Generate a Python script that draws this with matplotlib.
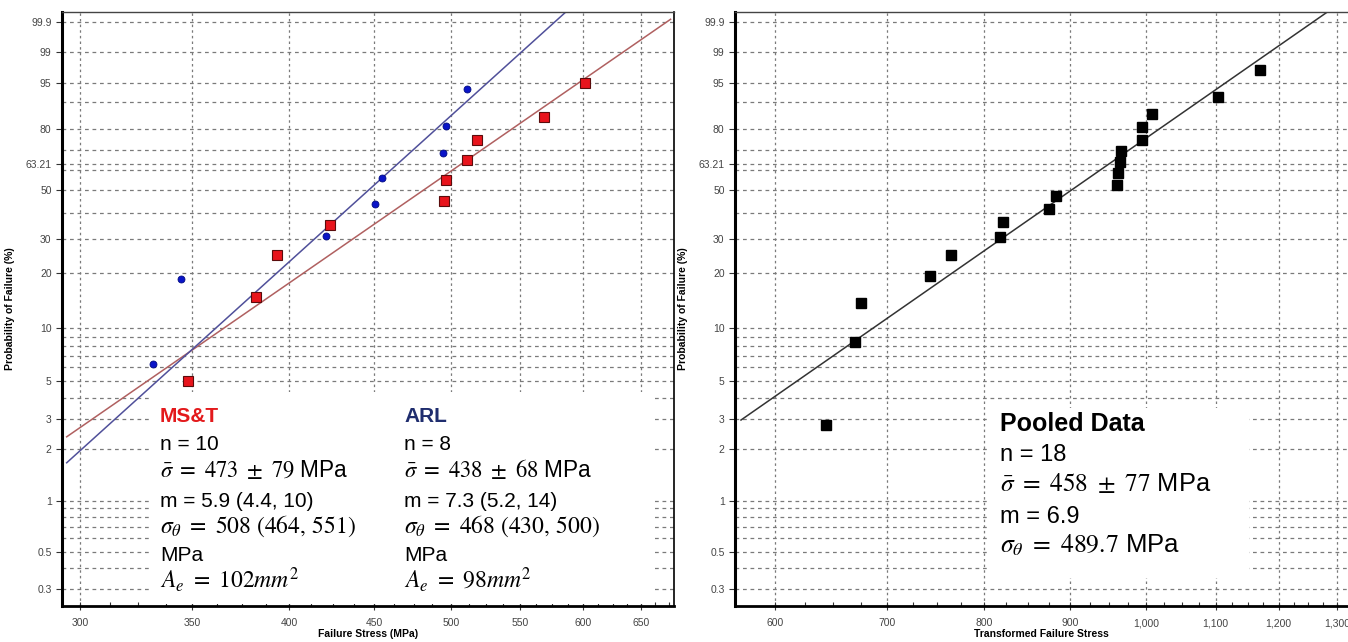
import numpy as np
import matplotlib
matplotlib.use("Agg")
import matplotlib.pyplot as plt
from matplotlib.ticker import FixedLocator, FuncFormatter, NullFormatter
from matplotlib.patches import Rectangle

plt.rcParams['font.family'] = ['Liberation Sans', 'DejaVu Sans']
plt.rcParams['mathtext.fontset'] = 'stix'

# ---------------- data ----------------
# MS&T specimens
mst_stress = [348.0, 382.5, 393.4, 423.3, 495.2, 496.6, 511.2, 518.3, 568.6, 601.5]
mst_prob = [5, 15, 25, 35, 45, 55, 65, 75, 85, 95]
# ARL specimens
arl_stress = [331.9, 344.6, 421.2, 450.3, 454.9, 494.3, 497.0, 511.0]
arl_prob = [6.25, 18.75, 31.25, 43.75, 56.25, 68.75, 81.25, 93.75]
# pooled (transformed) data
pooled_stress = [643.7, 669.7, 675.3, 743.0, 764.1, 817.5, 821.4, 874.7, 883.7,
                 960.3, 962.0, 964.3, 966.1, 994.0, 994.0, 1007.4, 1104.4, 1169.7]
pooled_prob = [2.78, 8.33, 13.89, 19.44, 25.0, 30.56, 36.11, 41.67, 47.22,
               52.78, 58.33, 63.89, 69.44, 75.0, 80.56, 86.11, 91.67, 97.22]

# fitted Weibull lines (end points)
mst_fit_stress = [294.5, 676.8]
mst_fit_prob = [2.372, 99.923]
arl_fit_stress = [294.5, 585.9]
arl_fit_prob = [1.670, 99.964]
pooled_fit_stress = [572.5, 1281.4]
pooled_fit_prob = [2.973, 99.961]

# axis ticks
prob_ticks = [0.3, 0.5, 1, 2, 3, 5, 10, 20, 30, 50, 63.21, 80, 95, 99, 99.9]
prob_grid_extra = [0.4, 0.6, 0.7, 0.8, 0.9, 4, 6, 7, 8, 9, 40, 60, 70, 90]
left_xticks = [300, 350, 400, 450, 500, 550, 600, 650]
right_xticks = [600, 700, 800, 900, 1000, 1100, 1200, 1300]


# Weibull probability scale
def weib_fwd(p):
    p = np.clip(np.asarray(p, dtype=float), 1e-9, 100 - 1e-9)
    return np.log(-np.log(1 - p / 100.0))


def weib_inv(w):
    return 100.0 * (1 - np.exp(-np.exp(np.asarray(w, dtype=float))))


def prob_label(v, pos):
    if v == int(v):
        return '%d' % v
    return ('%g' % v)


def setup_axes(ax, xlim, xticks, minor_step, xfmt):
    ax.set_xscale('log')
    ax.set_yscale('function', functions=(weib_fwd, weib_inv))
    ax.set_xlim(*xlim)
    ax.set_ylim(0.2381, 99.9636)

    ax.xaxis.set_major_locator(FixedLocator(xticks))
    minors = []
    for a in xticks:
        for k in (1, 2, 3):
            v = a + k * minor_step
            if xlim[0] < v < xlim[1]:
                minors.append(v)
    ax.xaxis.set_minor_locator(FixedLocator(minors))
    ax.xaxis.set_major_formatter(FuncFormatter(xfmt))
    ax.xaxis.set_minor_formatter(NullFormatter())

    ax.yaxis.set_major_locator(FixedLocator(prob_ticks))
    ax.yaxis.set_minor_locator(FixedLocator(prob_grid_extra))
    ax.yaxis.set_major_formatter(FuncFormatter(prob_label))
    ax.yaxis.set_minor_formatter(NullFormatter())

    ax.set_axisbelow(True)
    ax.grid(True, which='major', axis='x', color='#7a7a7a', lw=0.9, ls=(0, (2, 2.5)))
    ax.grid(True, which='both', axis='y', color='#7a7a7a', lw=0.9, ls=(0, (3, 3)))

    ax.tick_params(axis='both', which='major', labelsize=7.5, labelcolor='#444444',
                   color='#333333')
    ax.tick_params(axis='x', which='major', direction='inout', length=6, width=0.8, pad=6)
    ax.tick_params(axis='x', which='minor', direction='in', length=3, width=0.8,
                   color='#333333')
    ax.tick_params(axis='y', which='major', direction='out', length=4, width=0.8)
    ax.tick_params(axis='y', which='minor', length=0)

    ax.spines['left'].set_linewidth(2.2)
    ax.spines['bottom'].set_linewidth(2.0)
    ax.spines['top'].set_linewidth(1.0)
    ax.spines['top'].set_color('#444444')
    ax.spines['right'].set_linewidth(1.2)

    ax.set_ylabel('Probability of Failure (%)', fontsize=7.5, fontweight='bold')
    ax.yaxis.set_label_coords(-0.077, 0.5)


fig = plt.figure(figsize=(13.48, 6.42), dpi=100)
ax1 = fig.add_axes([62 / 1348, 36 / 642, 612 / 1348, 594 / 642])
ax2 = fig.add_axes([735 / 1348, 36 / 642, 613 / 1348, 594 / 642])

setup_axes(ax1, (292.6, 680.0), left_xticks, 12.5, lambda v, p: '%d' % v)
setup_axes(ax2, (567.8, 1320.0), right_xticks, 25, lambda v, p: '{:,.0f}'.format(v))
ax2.spines['right'].set_visible(False)

ax1.set_xlabel('Failure Stress (MPa)', fontsize=7.5, fontweight='bold')
ax1.xaxis.set_label_coords(0.5, -0.038)
ax2.set_xlabel('Transformed Failure Stress', fontsize=7.5, fontweight='bold')
ax2.xaxis.set_label_coords(0.5, -0.038)

# ---------------- left panel ----------------
ax1.plot(mst_fit_stress, mst_fit_prob, color='#b06060', lw=1.1, zorder=2)
ax1.plot(arl_fit_stress, arl_fit_prob, color='#50509a', lw=1.1, zorder=2)
ax1.plot(arl_stress, arl_prob, 'o', ms=5, color='#0a14c8', mec='#000a80', mew=0.6,
         zorder=3, clip_on=False)
ax1.plot(mst_stress, mst_prob, 's', ms=7, color='#e8141c', mec='#5a0c0c', mew=0.8,
         zorder=3, clip_on=False)

ax1.add_patch(Rectangle((0.144, 0.004), 0.822, 0.356, transform=ax1.transAxes,
                        facecolor='white', edgecolor='none', zorder=1))

rows = [0.3102, 0.2626, 0.2172, 0.1672, 0.1229, 0.0763, 0.0303]
sizes = [15, 15, 16.3, 15, 17, 15, 17]
mst_lines = ['MS&T', 'n = 10', r'$\bar{\sigma}\ =\ 473\ \pm\ 79$ MPa', 'm = 5.9 (4.4, 10)',
             r'$\sigma_{\theta}\ =\ 508\ (464,\,551)$', 'MPa', r'$A_e\ =\ 102mm^2$']
arl_lines = ['ARL', 'n = 8', r'$\bar{\sigma}\ =\ 438\ \pm\ 68$ MPa', 'm = 7.3 (5.2, 14)',
             r'$\sigma_{\theta}\ =\ 468\ (430,\,500)$', 'MPa', r'$A_e\ =\ 98mm^2$']
for i, (a, b) in enumerate(zip(mst_lines, arl_lines)):
    kw = dict(transform=ax1.transAxes, va='baseline', ha='left', fontsize=sizes[i], zorder=4)
    if i == 0:
        ax1.text(0.160, rows[i], a, color='#e31a1c', fontweight='bold', **kw)
        ax1.text(0.559, rows[i], b, color='#1f2d6e', fontweight='bold', **kw)
    else:
        ax1.text(0.160, rows[i], a, color='black', **kw)
        ax1.text(0.559, rows[i], b, color='black', **kw)

# ---------------- right panel ----------------
ax2.plot(pooled_fit_stress, pooled_fit_prob, color='#333333', lw=1.1, zorder=2)
ax2.plot(pooled_stress, pooled_prob, 's', ms=6.5, color='black', mec='black',
         zorder=3, clip_on=False)

ax2.add_patch(Rectangle((0.412, 0.047), 0.426, 0.286, transform=ax2.transAxes,
                        facecolor='white', edgecolor='none', zorder=1))

rows2 = [0.294, 0.2436, 0.1931, 0.1404, 0.0899]
sizes2 = [18, 17, 18.3, 17, 18.5]
pooled_lines = ['Pooled Data', 'n = 18', r'$\bar{\sigma}\ =\ 458\ \pm\ 77$ MPa', 'm = 6.9',
                r'$\sigma_{\theta}\ =\ 489.7$ MPa']
for i, t in enumerate(pooled_lines):
    ax2.text(0.433, rows2[i], t, transform=ax2.transAxes, va='baseline', ha='left',
             fontsize=sizes2[i], fontweight='bold' if i == 0 else 'normal',
             color='black', zorder=4)

fig.savefig('out.png', dpi=100)
